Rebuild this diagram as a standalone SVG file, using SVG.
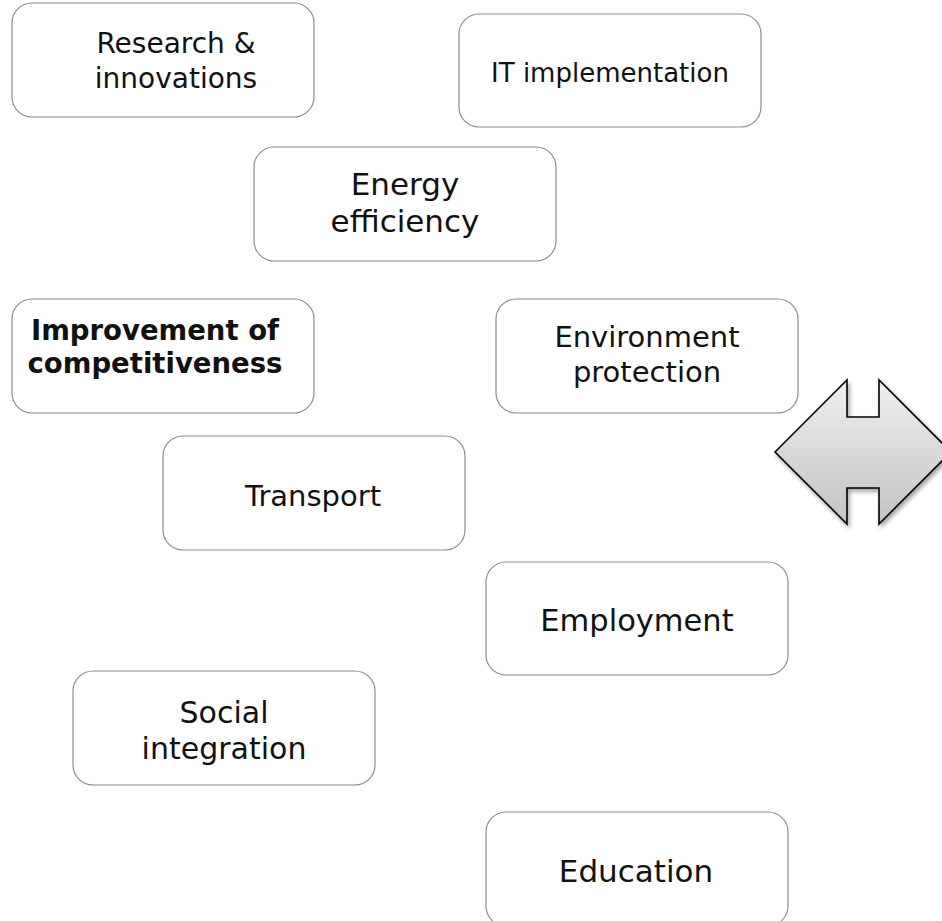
<svg xmlns="http://www.w3.org/2000/svg" width="942" height="921" viewBox="0 0 942 921">
  <style>
    .box { fill: #ffffff; stroke: #8c8c8c; stroke-width: 1.2; }
    .lbl { font-family: "DejaVu Sans", "Liberation Sans", sans-serif; fill: #111111; text-anchor: middle; }
    .bold { font-weight: bold; }
  </style>
  <defs>
    <linearGradient id="arrowFill" x1="0" y1="0" x2="0" y2="1">
      <stop offset="0" stop-color="#f0f0f0"/>
      <stop offset="1" stop-color="#c2c2c2"/>
    </linearGradient>
    <filter id="shadow" x="-20%" y="-20%" width="140%" height="140%">
      <feDropShadow dx="2" dy="3" stdDeviation="2" flood-color="#000000" flood-opacity="0.35"/>
    </filter>
  </defs>

  <rect width="942" height="921" fill="#ffffff"/>

  <g id="research">
    <rect class="box" x="12" y="3" width="302" height="114" rx="20"/>
    <text class="lbl" x="176" y="53" font-size="28">Research &amp;</text>
    <text class="lbl" x="176" y="88" font-size="28">innovations</text>
  </g>

  <g id="it-implementation">
    <rect class="box" x="459" y="14" width="302" height="113" rx="20"/>
    <text class="lbl" x="610" y="82" font-size="26">IT implementation</text>
  </g>

  <g id="energy">
    <rect class="box" x="254" y="147" width="302" height="114" rx="20"/>
    <text class="lbl" x="405" y="195" font-size="31">Energy</text>
    <text class="lbl" x="405" y="232" font-size="31">efficiency</text>
  </g>

  <g id="competitiveness">
    <rect class="box" x="12" y="299" width="302" height="114" rx="20"/>
    <text class="lbl bold" x="155" y="340" font-size="27.5">Improvement of</text>
    <text class="lbl bold" x="155" y="373" font-size="27.5">competitiveness</text>
  </g>

  <g id="environment">
    <rect class="box" x="496" y="299" width="302" height="114" rx="20"/>
    <text class="lbl" x="647" y="347" font-size="29">Environment</text>
    <text class="lbl" x="647" y="382" font-size="29">protection</text>
  </g>

  <g id="transport">
    <rect class="box" x="163" y="436" width="302" height="114" rx="20"/>
    <text class="lbl" x="313" y="506" font-size="29">Transport</text>
  </g>

  <g id="employment">
    <rect class="box" x="486" y="562" width="302" height="113" rx="20"/>
    <text class="lbl" x="637" y="631" font-size="30.5">Employment</text>
  </g>

  <g id="social">
    <rect class="box" x="73" y="671" width="302" height="114" rx="20"/>
    <text class="lbl" x="224" y="723" font-size="30">Social</text>
    <text class="lbl" x="224" y="759" font-size="30">integration</text>
  </g>

  <g id="education">
    <rect class="box" x="486" y="812" width="302" height="114" rx="20"/>
    <text class="lbl" x="636" y="882" font-size="31">Education</text>
  </g>

  <!-- double-headed arrow shape on the right edge -->
  <g id="connectors">
    <path d="M775,452 L847,380 L847,417 L879,417 L879,380 L951,452 L879,524 L879,488 L847,488 L847,524 Z"
          fill="url(#arrowFill)" stroke="#000000" stroke-width="1.6" stroke-linejoin="miter" filter="url(#shadow)"/>
  </g>
</svg>
